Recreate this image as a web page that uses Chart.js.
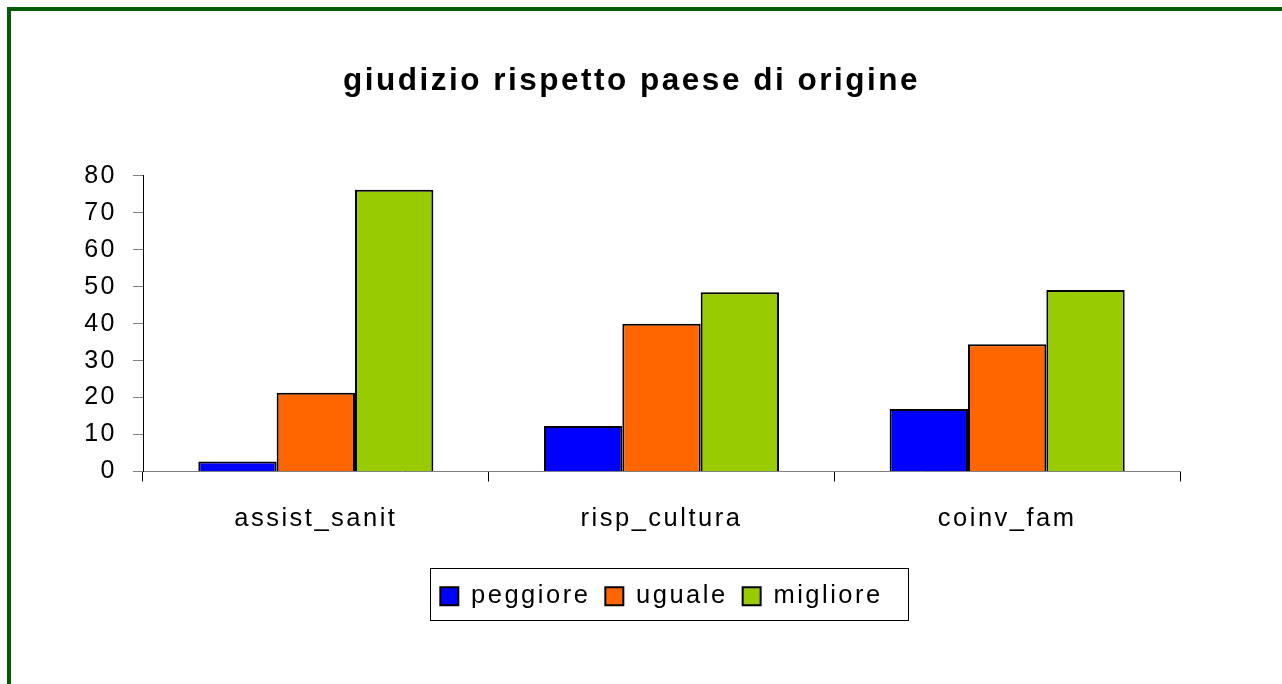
<!DOCTYPE html>
<html>
<head>
<meta charset="utf-8">
<script src="https://cdn.jsdelivr.net/npm/chart.js@4"></script>
<style>
  html, body { margin: 0; padding: 0; background: #fff; overflow: hidden; }
  #frame {
    position: absolute; left: 7px; top: 7px; width: 1400px; height: 800px;
    border-left: 4px solid #055a05; border-top: 4px solid #055a05;
  }
  #wrap { position: absolute; left: 0; top: 0; width: 1282px; height: 684px; }
</style>
</head>
<body>
<div id="frame"></div>
<div id="wrap"><canvas id="grafico" width="1282" height="684"></canvas></div>
<script>
// valori
const categorie = ["assist_sanit", "risp_cultura", "coinv_fam"];
const peggiore = [2.7, 12.3, 16.9];
const uguale = [21.3, 40.0, 34.4];
const migliore = [76.2, 48.5, 49.1];
const ticksY = [0, 10, 20, 30, 40, 50, 60, 70, 80];

const font = "'Liberation Sans', Arial, sans-serif";

// il testo originale e' piu' spaziato
const spaziatura = {
  id: "spaziatura",
  beforeUpdate(chart) { chart.ctx.letterSpacing = "2.5px"; },
  beforeDraw(chart) { chart.ctx.letterSpacing = "2.5px"; }
};

// cornice attorno alla legenda
const bordoLegenda = {
  id: "bordoLegenda",
  afterDraw(chart) {
    const boxes = chart.legend.legendHitBoxes;
    if (!boxes || !boxes.length) return;
    let x0 = Infinity, x1 = -Infinity, y0 = Infinity, y1 = -Infinity;
    boxes.forEach(b => {
      x0 = Math.min(x0, b.left); x1 = Math.max(x1, b.left + b.width);
      y0 = Math.min(y0, b.top); y1 = Math.max(y1, b.top + b.height);
    });
    const cy = (y0 + y1) / 2;
    const ctx = chart.ctx;
    ctx.save();
    ctx.strokeStyle = "#000";
    ctx.lineWidth = 1;
    ctx.strokeRect(Math.round(x0 - 10) + 0.5, Math.round(cy - 28) + 0.5, Math.round(x1 - x0 + 36), 52);
    ctx.restore();
  }
};

new Chart(document.getElementById("grafico"), {
  type: "bar",
  data: {
    labels: categorie,
    datasets: [
      { label: "peggiore", data: peggiore, backgroundColor: "#0000ff" },
      { label: "uguale", data: uguale, backgroundColor: "#ff6600" },
      { label: "migliore", data: migliore, backgroundColor: "#99cc00" }
    ].map(d => Object.assign(d, {
      borderColor: "#000",
      borderWidth: 2,
      categoryPercentage: 0.68,
      barPercentage: 1
    }))
  },
  options: {
    responsive: false,
    animation: false,
    layout: { padding: { left: 83, right: 102, top: 62, bottom: 65 } },
    plugins: {
      title: {
        display: true,
        text: "giudizio rispetto paese di origine",
        color: "#000",
        font: { family: font, size: 31.5, weight: "bold" },
        padding: { top: 0, bottom: 76 }
      },
      legend: {
        position: "bottom",
        fullSize: false,
        labels: {
          color: "#000",
          font: { family: font, size: 25.5 },
          boxWidth: 18,
          boxHeight: 18,
          padding: 15
        }
      },
      tooltip: { enabled: false }
    },
    scales: {
      x: {
        afterFit(scale) { scale.height = 97; },
        grid: { display: true, drawOnChartArea: false, drawTicks: true, tickLength: 10, offset: true, color: "#000" },
        border: { color: "#808080", width: 1 },
        ticks: { color: "#000", padding: 22, font: { family: font, size: 25.5 } }
      },
      y: {
        min: 0,
        max: 80,
        afterFit(scale) { scale.width = 60; },
        afterBuildTicks(scale) { scale.ticks = ticksY.map(v => ({ value: v })); },
        grid: { display: true, drawOnChartArea: false, drawTicks: true, tickLength: 10, color: "#808080" },
        border: { color: "#000", width: 1 },
        ticks: { color: "#000", padding: 16, font: { family: font, size: 25 } }
      }
    }
  },
  plugins: [spaziatura, bordoLegenda]
});
</script>
</body>
</html>
